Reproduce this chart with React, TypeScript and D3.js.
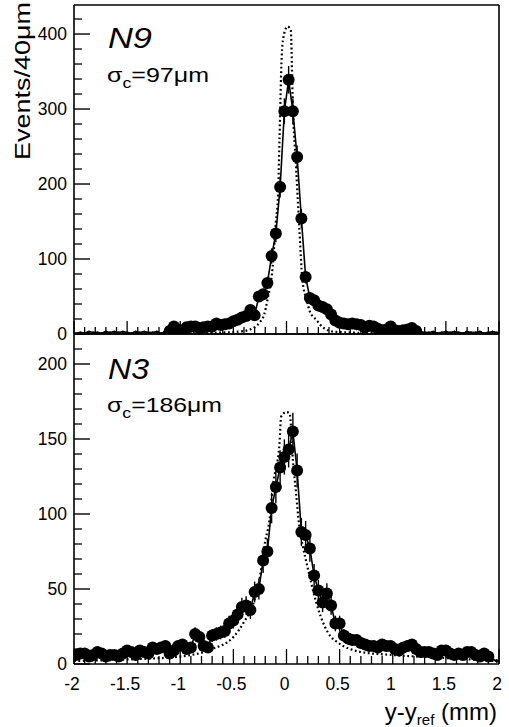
import React from 'react';
import * as d3 from 'd3';

// ---- data ----
const binCenters: number[] = d3.range(100).map((i) => -1.98 + 0.04 * i);

const n9Counts: number[] = [
  1, 2, 1, 3, 2, 2, 1, 3, 2, 3, 2, 3, 2, 1, 3, 2, 3, 2, 2, 3, 1, 3,
  4, 10, 6, 4, 9, 10, 10, 8, 9, 10, 10, 14, 12, 13, 14, 17, 19, 22, 24, 32,
  25, 50, 53, 68, 104, 134, 196, 297, 339, 297, 236, 154, 76, 48, 45, 38, 36, 33,
  26, 18, 15, 14, 13, 14, 13, 12, 9, 11, 10, 7, 5, 6, 10, 5, 4, 5, 6, 8, 4,
  3, 2, 2, 3, 1, 2, 3, 2, 3, 2, 1, 3, 2, 2, 3, 1, 2, 3, 2,
];

const n3Counts: number[] = [
  6, 7, 7, 5, 6, 8, 7, 5, 6, 6, 5, 7, 9, 8, 6, 9, 8, 7, 11, 10,
  11, 12, 7, 9, 12, 13, 10, 11, 20, 18, 12, 11, 19, 20, 21, 22, 27, 29, 33, 38,
  39, 36, 48, 50, 69, 75, 104, 118, 131, 138,
  143, 155, 129, 88, 86, 77, 59, 49, 41, 47, 39, 27, 27, 19, 17, 16, 16, 14, 13, 12,
  12, 11, 13, 12, 12, 10, 9, 11, 12, 13, 10, 8, 8, 8, 7, 6, 9, 9, 7, 6,
  7, 6, 8, 8, 6, 5, 7, 5, 3, 2,
];

const n9SimX: number[] = [-2.0, -1.0, -0.6, -0.4, -0.3, -0.25, -0.21, -0.18, -0.13, -0.1, -0.08, -0.066, -0.045, -0.03, 0.01, 0.04, 0.06, 0.09, 0.12, 0.15, 0.19, 0.22, 0.28, 0.35, 0.45, 0.6, 1.0, 2.0];
const n9SimY: number[] = [1, 1, 2, 4, 9, 16, 26, 45, 90, 150, 185, 260, 370, 395, 410, 405, 303, 223, 143, 72, 45, 30, 19, 8, 3, 2, 1, 1];

const n3SimX: number[] = [-2.0, -1.5, -1.0, -0.7, -0.5, -0.4, -0.3, -0.25, -0.2, -0.16, -0.13, -0.066, -0.05, 0.0, 0.03, 0.06, 0.09, 0.12, 0.155, 0.19, 0.28, 0.36, 0.42, 0.47, 0.7, 1.0, 1.5, 2.0];
const n3SimY: number[] = [2, 3, 5, 10, 18, 28, 43, 58, 82, 96, 118, 147, 165, 168, 167, 136, 114, 92, 78, 67, 41, 25, 18, 15, 8, 6, 4, 2];

const xTicks: number[] = [-2, -1.5, -1, -0.5, 0, 0.5, 1, 1.5, 2];
const xTickLabels: string[] = ['-2', '-1.5', '-1', '-0.5', '0', '0.5', '1', '1.5', '2'];
const n9YTicks: number[] = [0, 100, 200, 300, 400];
const n3YTicks: number[] = [0, 50, 100, 150, 200];

const FONT = 'Liberation Sans, Arial, Helvetica, sans-serif';

const X0 = 74;
const X1 = 499;
const x = d3.scaleLinear().domain([-2, 2]).range([X0, X1]);

type PanelProps = {
  id: string;
  counts: number[];
  simX: number[];
  simY: number[];
  yMax: number;
  top: number;
  bottom: number;
  majorY: number[];
  minorStep: number;
  xMajorLen: number;
  xMinorLen: number;
  name: string;
  sigma: string;
  nameY: number;
  sigmaY: number;
  nameLen: number;
  sigmaLen: number;
};

function Panel(p: PanelProps) {
  const y = d3.scaleLinear().domain([0, p.yMax]).range([p.bottom, p.top]);
  const pts = binCenters.map((c, i) => ({ c, n: p.counts[i] }));
  const dataLine = d3
    .line<{ c: number; n: number }>()
    .x((d) => x(d.c))
    .y((d) => y(d.n))(pts) as string;
  const simLine = d3
    .line<number>()
    .x((d) => x(d))
    .y((_, i) => y(p.simY[i]))
    .curve(d3.curveMonotoneX)(p.simX) as string;
  const minorY = d3.range(0, p.yMax, p.minorStep).filter((v) => !p.majorY.includes(v));
  const xMinor = d3.range(-20, 21).map((k) => k / 10);
  const halfBin = x(0.02) - x(0);
  return (
    <g>
      <defs>
        <clipPath id={p.id}>
          <rect x={X0} y={p.top} width={X1 - X0} height={p.bottom - p.top} />
        </clipPath>
      </defs>
      <g clipPath={`url(#${p.id})`}>
        <path d={simLine} fill="none" stroke="#000" strokeWidth={2.2} strokeDasharray="1.8,2.6" />
        <path d={dataLine} fill="none" stroke="#000" strokeWidth={1.6} />
        {pts.map((d, i) => {
          const e = Math.sqrt(d.n);
          return (
            <g key={i}>
              <line x1={x(d.c)} x2={x(d.c)} y1={y(d.n + e)} y2={y(Math.max(0, d.n - e))} stroke="#000" strokeWidth={1.4} />
              <line x1={x(d.c) - halfBin} x2={x(d.c) + halfBin} y1={y(d.n)} y2={y(d.n)} stroke="#000" strokeWidth={1.4} />
              {d.n >= 4 && <circle cx={x(d.c)} cy={y(d.n)} r={6} fill="#000" />}
            </g>
          );
        })}
      </g>
      {/* frame */}
      <line x1={X0} x2={X0} y1={p.top} y2={p.bottom} stroke="#000" strokeWidth={1.6} />
      <line x1={X1} x2={X1} y1={p.top} y2={p.bottom} stroke="#000" strokeWidth={1.6} />
      <line x1={X0} x2={X1} y1={p.top} y2={p.top} stroke="#000" strokeWidth={1.6} />
      <line x1={X0} x2={X1} y1={p.bottom} y2={p.bottom} stroke="#000" strokeWidth={1.6} />
      {/* y ticks */}
      {p.majorY.map((v) => (
        <g key={'M' + v}>
          <line x1={X0} x2={X0 + 16} y1={y(v)} y2={y(v)} stroke="#000" strokeWidth={1.4} />
          <text x={67} y={y(v)} dy="0.36em" textAnchor="end" fontSize={17.5} fontFamily={FONT}>
            {v}
          </text>
        </g>
      ))}
      {minorY.map((v) => (
        <line key={'m' + v} x1={X0} x2={X0 + 8} y1={y(v)} y2={y(v)} stroke="#000" strokeWidth={1.3} />
      ))}
      {/* x ticks */}
      {xMinor.map((v) => {
        const major = Math.abs(v * 2 - Math.round(v * 2)) < 1e-6;
        const len = major ? p.xMajorLen : p.xMinorLen;
        return (
          <line key={'x' + v} x1={x(v)} x2={x(v)} y1={p.bottom} y2={p.bottom - len} stroke="#000" strokeWidth={1.3} />
        );
      })}
      {/* labels */}
      <text x={108} y={p.nameY} fontSize={29} fontStyle="italic" fontFamily={FONT} textLength={p.nameLen} lengthAdjust="spacingAndGlyphs">
        {p.name}
      </text>
      <text x={107} y={p.sigmaY} fontSize={21} fontFamily={FONT} textLength={p.sigmaLen} lengthAdjust="spacingAndGlyphs">
        <tspan>σ</tspan>
        <tspan fontSize={15} dy={6}>c</tspan>
        <tspan dy={-6}>{p.sigma}</tspan>
      </text>
    </g>
  );
}

export default function App() {
  return (
    <svg width={509} height={727} style={{ position: 'absolute', left: 0, top: 0, background: '#fff' }}>
      <rect x={0} y={0} width={509} height={727} fill="#fff" />
      <Panel
        id="clipTop"
        counts={n9Counts}
        simX={n9SimX}
        simY={n9SimY}
        yMax={438.7}
        top={5}
        bottom={334}
        majorY={n9YTicks}
        minorStep={20}
        xMajorLen={13}
        xMinorLen={7}
        name="N9"
        sigma="=97μm"
        nameY={48}
        sigmaY={82}
        nameLen={44}
        sigmaLen={102}
      />
      <Panel
        id="clipBot"
        counts={n3Counts}
        simX={n3SimX}
        simY={n3SimY}
        yMax={220}
        top={334}
        bottom={664}
        majorY={n3YTicks}
        minorStep={10}
        xMajorLen={15}
        xMinorLen={8}
        name="N3"
        sigma="=186μm"
        nameY={379}
        sigmaY={412}
        nameLen={41}
        sigmaLen={115}
      />
      {xTicks.map((v, i) => (
        <text key={v} x={x(v) - 2} y={690} textAnchor="middle" fontSize={17.5} fontFamily={FONT}>
          {xTickLabels[i]}
        </text>
      ))}
      <text x={497} y={720} textAnchor="end" fontSize={24} fontFamily={FONT}>
        <tspan>y-y</tspan>
        <tspan fontSize={15} dy={5}>ref</tspan>
        <tspan dy={-5}> (mm)</tspan>
      </text>
      <text
        transform="translate(30,160) rotate(-90)"
        fontSize={22}
        fontFamily={FONT}
        textLength={158}
        lengthAdjust="spacingAndGlyphs"
      >
        Events/40μm
      </text>
    </svg>
  );
}
